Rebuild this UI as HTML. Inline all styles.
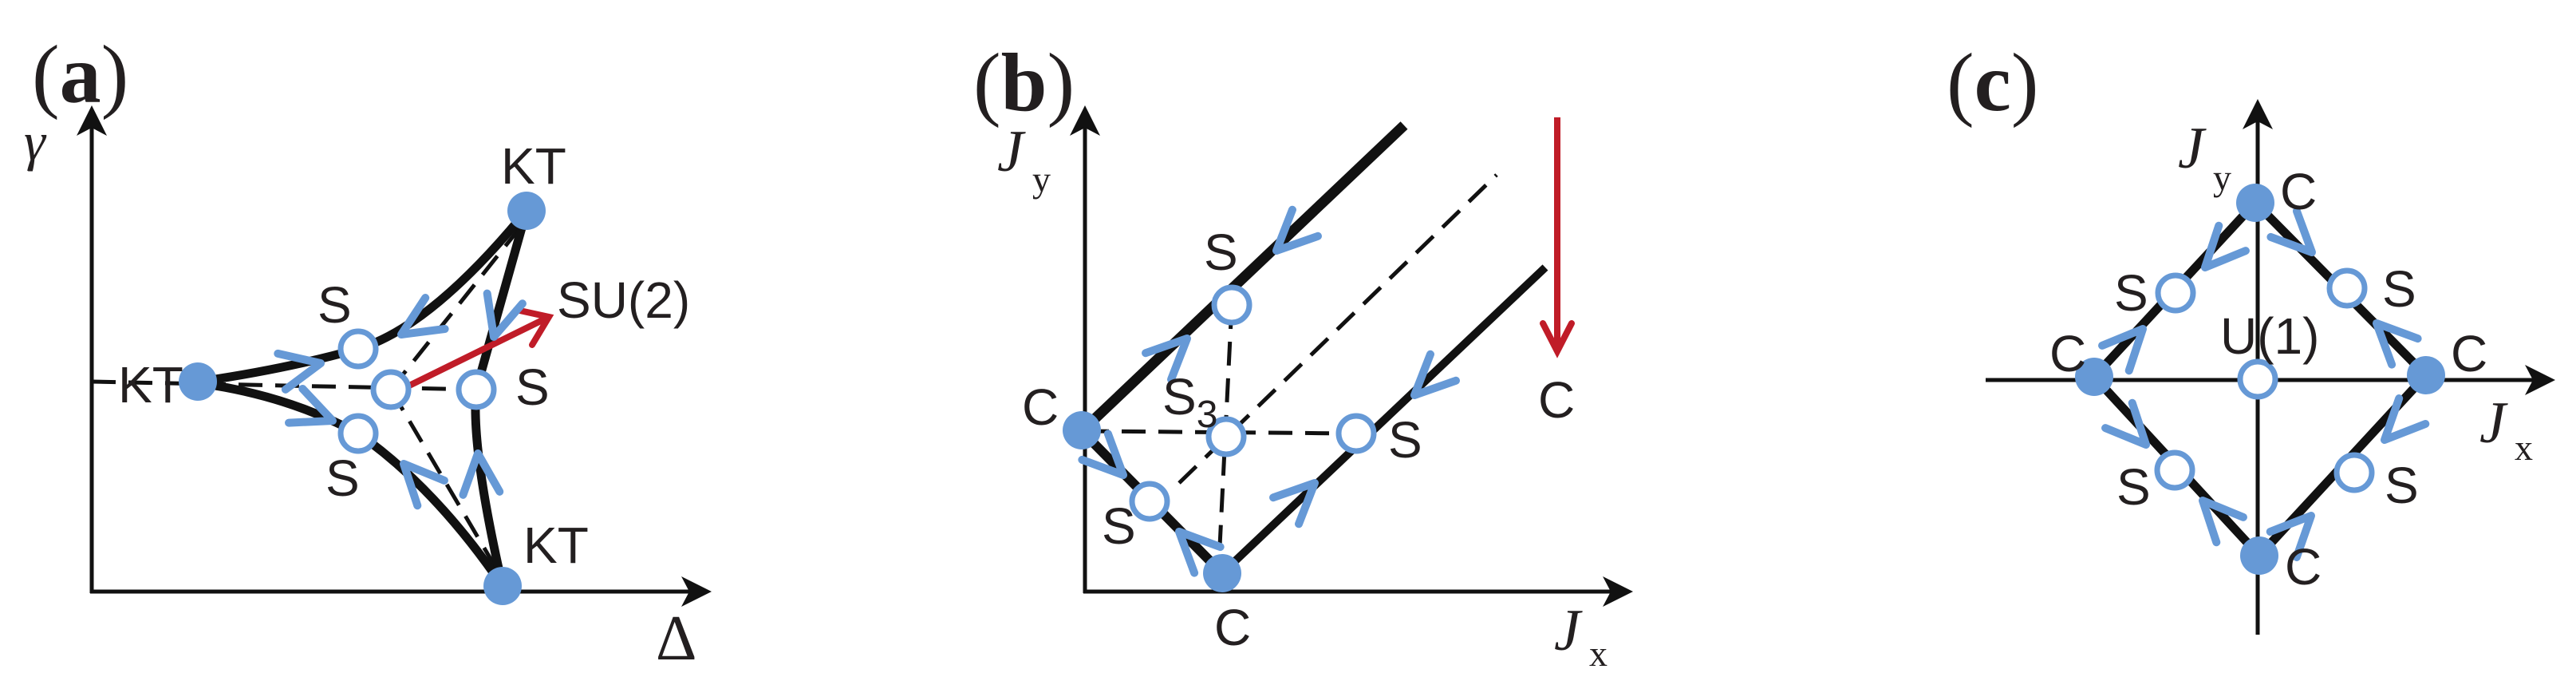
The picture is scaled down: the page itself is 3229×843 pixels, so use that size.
<!DOCTYPE html>
<html><head><meta charset="utf-8"><style>
html,body{margin:0;padding:0;background:#fff;}
svg{display:block;}
.lbl{font-family:"Liberation Sans",sans-serif;font-size:64px;fill:#231f20;}
.ser{font-family:"Liberation Serif",serif;fill:#231f20;}
</style></head><body>
<svg width="3229" height="843" viewBox="0 0 3229 843" xmlns="http://www.w3.org/2000/svg">
<defs>
<path id="chev" d="M-50,-23 L0,0 L-50,23" fill="none" stroke="#6699d6" stroke-width="10" stroke-linecap="round" stroke-linejoin="round"/>
</defs>

<!-- ================= Panel (a) ================= -->
<text class="ser" x="40" y="128" font-size="104">(<tspan font-weight="bold">a</tspan>)</text>
<text class="ser" x="30" y="200" font-size="68" font-style="italic">γ</text>
<line x1="115" y1="150" x2="115" y2="743" stroke="#111" stroke-width="5"/>
<line x1="113" y1="741" x2="875" y2="741" stroke="#111" stroke-width="5"/>
<path d="M115,132 L96,170 L115,160 L134,170 Z" fill="#111"/>
<path d="M892,741 L854,722 L864,741 L854,760 Z" fill="#111"/>
<text class="ser" x="822" y="826" font-size="80">Δ</text>

<g stroke="#111" stroke-width="5" stroke-dasharray="30,16" fill="none">
<line x1="115" y1="478" x2="600" y2="488"/>
<line x1="490" y1="488" x2="652" y2="285"/>
<line x1="490" y1="488" x2="622" y2="712"/>
</g>
<g stroke="#111" stroke-width="11" fill="none" stroke-linecap="round">
<path d="M250,478 Q360,462 449,437"/>
<path d="M449,437 Q540,410 660,264"/>
<path d="M250,480 Q360,495 449,543"/>
<path d="M449,543 Q545,610 630,734"/>
<path d="M660,264 L597,488"/>
<path d="M597,488 Q590,560 630,734"/>
</g>
<line x1="513" y1="483" x2="684" y2="399" stroke="#c01c28" stroke-width="8"/>
<path d="M647,388 L688,397 L667,432" fill="none" stroke="#c01c28" stroke-width="8" stroke-linecap="round"/>
<use href="#chev" transform="translate(402,455) rotate(-12)"/>
<use href="#chev" transform="translate(503,419) rotate(148)"/>
<use href="#chev" transform="translate(619,422) rotate(106)"/>
<use href="#chev" transform="translate(417,527) rotate(22)"/>
<use href="#chev" transform="translate(506,581) rotate(-133)"/>
<use href="#chev" transform="translate(599,568) rotate(-95)"/>
<g fill="#6699d6">
<circle cx="248" cy="478" r="24"/>
<circle cx="660" cy="264" r="24"/>
<circle cx="630" cy="734" r="24"/>
</g>
<g fill="#fff" stroke="#6699d6" stroke-width="7">
<circle cx="449" cy="437" r="22"/>
<circle cx="490" cy="488" r="22"/>
<circle cx="597" cy="488" r="22"/>
<circle cx="449" cy="543" r="22"/>
</g>
<text class="lbl" x="628" y="230">KT</text>
<text class="lbl" x="398" y="404">S</text>
<text class="lbl" x="698" y="398">SU(2)</text>
<text class="lbl" x="646" y="507">S</text>
<text class="lbl" x="408" y="621">S</text>
<text class="lbl" x="148" y="504">KT</text>
<text class="lbl" x="656" y="705">KT</text>

<!-- ================= Panel (b) ================= -->
<text class="ser" x="1220" y="138" font-size="104">(<tspan font-weight="bold">b</tspan>)</text>
<text class="ser" x="1250" y="214" font-size="74" font-style="italic">J</text>
<text class="ser" x="1294" y="240" font-size="46">y</text>
<line x1="1360" y1="150" x2="1360" y2="743" stroke="#111" stroke-width="5"/>
<line x1="1358" y1="741" x2="2030" y2="741" stroke="#111" stroke-width="5"/>
<path d="M1360,132 L1341,170 L1360,160 L1379,170 Z" fill="#111"/>
<path d="M2047,741 L2009,722 L2019,741 L2009,760 Z" fill="#111"/>
<text class="ser" x="1948" y="814" font-size="74" font-style="italic">J</text>
<text class="ser" x="1992" y="834" font-size="46">x</text>

<g stroke="#111" stroke-width="5" stroke-dasharray="30,16" fill="none">
<line x1="1478" y1="605" x2="1876" y2="219"/>
<line x1="1360" y1="540" x2="1700" y2="543"/>
<line x1="1544" y1="382" x2="1529" y2="684"/>
</g>
<g stroke="#111" fill="none">
<line x1="1356" y1="540" x2="1760" y2="157" stroke-width="13"/>
<line x1="1356" y1="540" x2="1532" y2="718" stroke-width="12"/>
<line x1="1532" y1="718" x2="1937" y2="335" stroke-width="10"/>
</g>
<line x1="1952" y1="147" x2="1952" y2="438" stroke="#c01c28" stroke-width="8"/>
<path d="M1934,405 L1952,440 L1970,405" fill="none" stroke="#c01c28" stroke-width="8" stroke-linecap="round"/>
<use href="#chev" transform="translate(1600,314) rotate(136)"/>
<use href="#chev" transform="translate(1488,424) rotate(-44)"/>
<use href="#chev" transform="translate(1408,595) rotate(45)"/>
<use href="#chev" transform="translate(1478,666) rotate(-135)"/>
<use href="#chev" transform="translate(1648,605) rotate(-44)"/>
<use href="#chev" transform="translate(1773,495) rotate(136)"/>
<g fill="#6699d6">
<circle cx="1356" cy="539" r="24"/>
<circle cx="1532" cy="718" r="24"/>
</g>
<g fill="#fff" stroke="#6699d6" stroke-width="7">
<circle cx="1544" cy="382" r="22"/>
<circle cx="1537" cy="547" r="22"/>
<circle cx="1700" cy="543" r="22"/>
<circle cx="1441" cy="628" r="22"/>
</g>
<text class="lbl" x="1281" y="532">C</text>
<text class="lbl" x="1509" y="338">S</text>
<text class="lbl" x="1457" y="519">S<tspan font-size="48" dy="16">3</tspan></text>
<text class="lbl" x="1740" y="573">S</text>
<text class="lbl" x="1381" y="681">S</text>
<text class="lbl" x="1522" y="808">C</text>
<text class="lbl" x="1928" y="523">C</text>

<!-- ================= Panel (c) ================= -->
<text class="ser" x="2440" y="138" font-size="104">(<tspan font-weight="bold">c</tspan>)</text>
<text class="ser" x="2730" y="210" font-size="74" font-style="italic">J</text>
<text class="ser" x="2774" y="238" font-size="46">y</text>
<line x1="2830" y1="140" x2="2830" y2="795" stroke="#111" stroke-width="5"/>
<line x1="2489" y1="476" x2="3185" y2="476" stroke="#111" stroke-width="5"/>
<path d="M2830,124 L2811,162 L2830,152 L2849,162 Z" fill="#111"/>
<path d="M3203,476 L3165,457 L3175,476 L3165,495 Z" fill="#111"/>
<text class="ser" x="3108" y="554" font-size="74" font-style="italic">J</text>
<text class="ser" x="3152" y="576" font-size="46">x</text>

<g stroke="#111" stroke-width="11" fill="none">
<path d="M2827,254 L2625,472 L2832,696 L3041,470 Z"/>
</g>
<use href="#chev" transform="translate(2764,335) rotate(133)"/>
<use href="#chev" transform="translate(2686,412) rotate(-47)"/>
<use href="#chev" transform="translate(2898,316) rotate(45)"/>
<use href="#chev" transform="translate(2979,405) rotate(-135)"/>
<use href="#chev" transform="translate(2690,557) rotate(47)"/>
<use href="#chev" transform="translate(2761,627) rotate(-133)"/>
<use href="#chev" transform="translate(2989,551) rotate(134)"/>
<use href="#chev" transform="translate(2897,646) rotate(-46)"/>
<g fill="#6699d6">
<circle cx="2827" cy="254" r="24"/>
<circle cx="2625" cy="472" r="24"/>
<circle cx="3041" cy="470" r="24"/>
<circle cx="2832" cy="696" r="24"/>
</g>
<g fill="#fff" stroke="#6699d6" stroke-width="7">
<circle cx="2830" cy="475" r="22"/>
<circle cx="2727" cy="367" r="22"/>
<circle cx="2942" cy="361" r="22"/>
<circle cx="2726" cy="589" r="22"/>
<circle cx="2951" cy="592" r="22"/>
</g>
<text class="lbl" x="2858" y="262">C</text>
<text class="lbl" x="2650" y="389">S</text>
<text class="lbl" x="2986" y="384">S</text>
<text class="lbl" x="2783" y="443">U(1)</text>
<text class="lbl" x="2569" y="465">C</text>
<text class="lbl" x="3072" y="465">C</text>
<text class="lbl" x="2653" y="632">S</text>
<text class="lbl" x="2989" y="630">S</text>
<text class="lbl" x="2864" y="732">C</text>
</svg>
</body></html>
